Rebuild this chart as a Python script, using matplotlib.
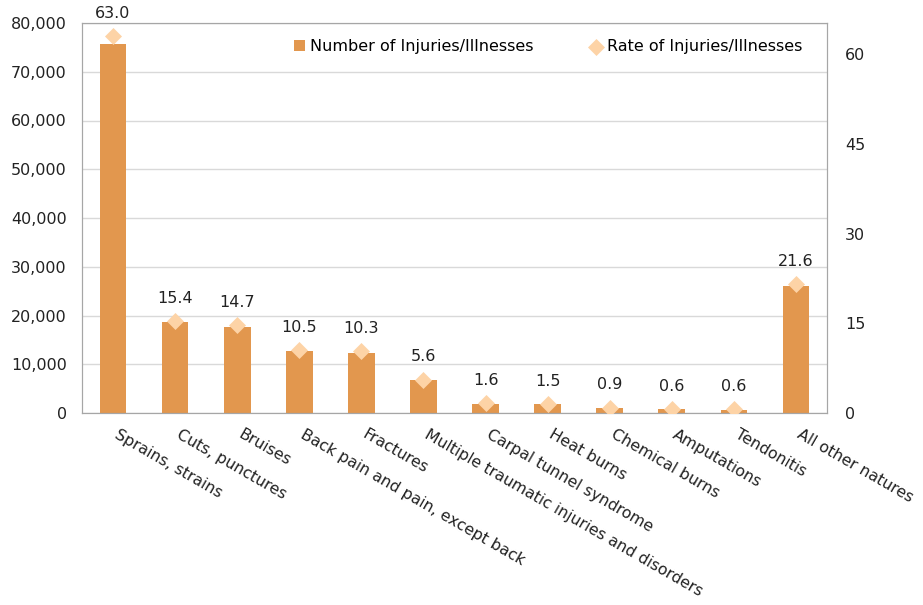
import matplotlib.pyplot as plt
import matplotlib.transforms as mtransforms
from matplotlib.ticker import FuncFormatter

categories = ["Sprains, strains", "Cuts, punctures", "Bruises",
              "Back pain and pain, except back", "Fractures",
              "Multiple traumatic injuries and disorders",
              "Carpal tunnel syndrome", "Heat burns", "Chemical burns",
              "Amputations", "Tendonitis", "All other natures"]
counts = [75700, 18700, 17650, 12700, 12400, 6850, 1900, 1900, 1100, 820, 650, 26100]
rates = [63.0, 15.4, 14.7, 10.5, 10.3, 5.6, 1.6, 1.5, 0.9, 0.6, 0.6, 21.6]

bar_color = "#E2974E"
dia_color = "#FDD3A6"
grid_color = "#D9D9D9"
spine_color = "#A6A6A6"
fs = 11.5

fig = plt.figure(figsize=(9.23, 6.05), dpi=100)
ax = fig.add_axes([82 / 923, 1 - 413 / 605, 745 / 923, 390 / 605])
ax2 = ax.twinx()

x = list(range(len(categories)))
ax.bar(x, counts, width=0.43, color=bar_color, zorder=2,
       label="Number of Injuries/Illnesses")
ax2.scatter(x, rates, marker="D", s=75, color=dia_color, zorder=3,
            linewidths=0, label="Rate of Injuries/Illnesses")

for xi, r in zip(x, rates):
    ax2.annotate(f"{r:.1f}", (xi, r), xytext=(0, 11), textcoords="offset points",
                 ha="center", va="bottom", fontsize=fs, color="#222222")

ax.set_xlim(-0.5, len(categories) - 0.5)
ax.set_ylim(0, 80000)
ax2.set_ylim(0, 65.2)
ax.set_yticks(range(0, 80001, 10000))
ax2.set_yticks([0, 15, 30, 45, 60])
ax.yaxis.set_major_formatter(FuncFormatter(lambda v, p: f"{int(v):,}"))

ax.grid(axis="y", color=grid_color, linewidth=1, zorder=0)
ax.set_axisbelow(True)

for a in (ax, ax2):
    for s in a.spines.values():
        s.set_color(spine_color)
    a.tick_params(axis="both", length=0, labelsize=fs, colors="#222222")
ax.tick_params(axis="y", pad=11)
ax2.tick_params(axis="y", pad=13)

ax.set_xticks(x)
ax.set_xticklabels(categories, rotation=-30, ha="left", va="top",
                   rotation_mode="anchor", fontsize=11.3)
ax.tick_params(axis="x", pad=10)
shift = mtransforms.ScaledTranslation(6 / 100, 0, fig.dpi_scale_trans)
for lab in ax.get_xticklabels():
    lab.set_transform(lab.get_transform() + shift)

h1, l1 = ax.get_legend_handles_labels()
h2, l2 = ax2.get_legend_handles_labels()
ax2.legend(h1 + h2, l1 + l2, loc="upper right", ncol=2, frameon=False,
           fontsize=fs, handlelength=0.7, handletextpad=0.3, columnspacing=3.6,
           bbox_to_anchor=(0.986, 0.995))

fig.savefig("out.png", dpi=100)
